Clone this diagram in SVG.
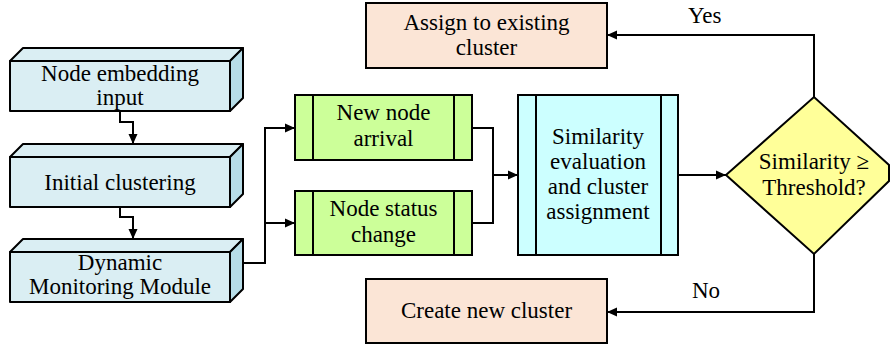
<svg xmlns="http://www.w3.org/2000/svg" width="891" height="349" viewBox="0 0 891 349" font-family="'Liberation Serif', 'DejaVu Serif', serif">
  <style>
    text { font-size: 23px; fill: #000; text-anchor: middle; }
    .front { fill: #DAEEF3; stroke: #000; stroke-width: 2; stroke-linejoin: round; }
    .top { fill: #DAEEF3; stroke: #000; stroke-width: 2; stroke-linejoin: round; }
    .side { fill: #B7DDE8; stroke: #000; stroke-width: 2; stroke-linejoin: round; }
    .event { fill: #CCFF99; stroke: #000; stroke-width: 2; }
    .proc { fill: #CCFFFF; stroke: #000; stroke-width: 2; }
    .decide { fill: #FFFF99; stroke: #000; stroke-width: 2; stroke-linejoin: miter; }
    .result { fill: #FBE5D6; stroke: #000; stroke-width: 2; }
    .bar { stroke: #000; stroke-width: 2; }
    .link { fill: none; stroke: #000; stroke-width: 2; }
    .label { text-anchor: start; }
  </style>
  <defs>
    <marker id="arrow" viewBox="0 0 10 10" refX="10" refY="5" markerWidth="10" markerHeight="10" markerUnits="userSpaceOnUse" orient="auto">
      <path d="M0,0.5 L10,5 L0,9.5 Z" fill="#000"/>
    </marker>
  </defs>

  <!-- Input pipeline: 3D blocks -->
  <g id="node-embedding-input">
    <polygon class="top" points="10,61 23,48 243,48 230,61"/>
    <polygon class="side" points="230,61 243,48 243,98 230,111"/>
    <rect class="front" x="10" y="61" width="220" height="50"/>
    <text x="120" y="81">Node embedding</text>
    <text x="120" y="105">input</text>
  </g>
  <g id="initial-clustering">
    <polygon class="top" points="10,157 23,144 243,144 230,157"/>
    <polygon class="side" points="230,157 243,144 243,194 230,207"/>
    <rect class="front" x="10" y="157" width="220" height="50"/>
    <text x="120" y="190">Initial clustering</text>
  </g>
  <g id="dynamic-monitoring-module">
    <polygon class="top" points="10,252 23,239 243,239 230,252"/>
    <polygon class="side" points="230,252 243,239 243,289 230,302"/>
    <rect class="front" x="10" y="252" width="220" height="50"/>
    <text x="120" y="270">Dynamic</text>
    <text x="120" y="294">Monitoring Module</text>
  </g>

  <!-- Events -->
  <g id="new-node-arrival">
    <rect class="event" x="295" y="95" width="177" height="65"/>
    <line class="bar" x1="313" y1="95" x2="313" y2="160"/>
    <line class="bar" x1="454" y1="95" x2="454" y2="160"/>
    <text x="383.5" y="120">New node</text>
    <text x="383.5" y="146">arrival</text>
  </g>
  <g id="node-status-change">
    <rect class="event" x="295" y="191" width="177" height="64"/>
    <line class="bar" x1="313" y1="191" x2="313" y2="255"/>
    <line class="bar" x1="454" y1="191" x2="454" y2="255"/>
    <text x="383.5" y="216">Node status</text>
    <text x="383.5" y="242">change</text>
  </g>

  <!-- Similarity evaluation -->
  <g id="similarity-evaluation">
    <rect class="proc" x="518" y="95" width="160" height="160"/>
    <line class="bar" x1="536" y1="95" x2="536" y2="255"/>
    <line class="bar" x1="661" y1="95" x2="661" y2="255"/>
    <text x="598" y="144">Similarity</text>
    <text x="598" y="169">evaluation</text>
    <text x="598" y="194">and cluster</text>
    <text x="598" y="219">assignment</text>
  </g>

  <!-- Decision -->
  <g id="threshold-decision">
    <polygon class="decide" points="726,175 814,97 889,165 889,181 814,254"/>
    <text x="814" y="169">Similarity ≥</text>
    <text x="814" y="195">Threshold?</text>
  </g>

  <!-- Outcomes -->
  <g id="assign-existing-cluster">
    <rect class="result" x="366" y="3" width="241" height="65"/>
    <text x="486.5" y="30">Assign to existing</text>
    <text x="486.5" y="55">cluster</text>
  </g>
  <g id="create-new-cluster">
    <rect class="result" x="366" y="279" width="241" height="64"/>
    <text x="486.5" y="318">Create new cluster</text>
  </g>

  <!-- Connectors -->
  <g id="connectors">
    <path class="link" d="M120,111 V122 H133 V144" marker-end="url(#arrow)"/>
    <path class="link" d="M120,207 V217 H133 V239" marker-end="url(#arrow)"/>
    <path class="link" d="M243,263 H265 V128 H295" marker-end="url(#arrow)"/>
    <path class="link" d="M265,223 H295" marker-end="url(#arrow)"/>
    <path class="link" d="M472,128 H493 V223 H472"/>
    <path class="link" d="M493,175 H518" marker-end="url(#arrow)"/>
    <path class="link" d="M678,175 H726" marker-end="url(#arrow)"/>
    <path class="link" d="M814,97 V35 H607" marker-end="url(#arrow)"/>
    <path class="link" d="M814,254 V312 H607" marker-end="url(#arrow)"/>
    <text class="label" x="688" y="23">Yes</text>
    <text class="label" x="692" y="298">No</text>
  </g>
</svg>
